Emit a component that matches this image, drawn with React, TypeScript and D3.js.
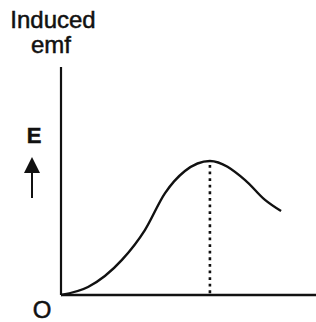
import { useEffect, useRef } from 'react';
import * as d3 from 'd3';

// time values (arbitrary units) and induced emf
const times = [0, 1.06, 2.39, 3.29, 4.08, 4.86, 5.84, 7.22, 8.0, 8.63];
const emf = [0, 0.35, 1.54, 2.85, 4.47, 5.44, 5.88, 5.04, 4.17, 3.68];
const peakIndex = 6;

const axisLabels = { yTop: 'Induced', yBottom: 'emf', symbol: 'E', origin: 'O' };

export default function App() {
  const svgRef = useRef<SVGSVGElement | null>(null);

  useEffect(() => {
    if (!svgRef.current) return;
    const svg = d3.select(svgRef.current);
    svg.selectAll('*').remove();

    const width = 316;
    const height = 322;
    const margin = { top: 67, right: 0, bottom: 27, left: 61 };

    const x = d3.scaleLinear().domain([0, 10]).range([margin.left, width - margin.right]);
    const y = d3.scaleLinear().domain([0, 10]).range([height - margin.bottom, margin.top]);

    svg.attr('viewBox', `0 0 ${width} ${height}`);

    const font = "'Liberation Sans', Arial, sans-serif";

    // axes
    svg
      .append('line')
      .attr('x1', x(0))
      .attr('x2', x(0))
      .attr('y1', y(0))
      .attr('y2', y(10))
      .attr('stroke', '#111')
      .attr('stroke-width', 2.2);
    svg
      .append('line')
      .attr('x1', x(0))
      .attr('x2', x(10))
      .attr('y1', y(0))
      .attr('y2', y(0))
      .attr('stroke', '#111')
      .attr('stroke-width', 2.4);

    // dotted line from the peak
    svg
      .append('line')
      .attr('x1', x(times[peakIndex]))
      .attr('x2', x(times[peakIndex]))
      .attr('y1', y(emf[peakIndex]) + 4)
      .attr('y2', y(0))
      .attr('stroke', '#111')
      .attr('stroke-width', 2.6)
      .attr('stroke-dasharray', '2.8,3.8');

    const pts = times.map((t, i) => [t, emf[i]] as [number, number]);
    const line = d3
      .line<[number, number]>()
      .x((d) => x(d[0]))
      .y((d) => y(d[1]))
      .curve(d3.curveMonotoneX);
    svg
      .append('path')
      .datum(pts)
      .attr('d', line)
      .attr('fill', 'none')
      .attr('stroke', '#111')
      .attr('stroke-width', 2.4);

    const text = (tx: number, ty: number, s: string, size = 24) =>
      svg
        .append('text')
        .attr('x', tx)
        .attr('y', ty)
        .attr('text-anchor', 'middle')
        .attr('font-family', font)
        .attr('font-size', size)
        .attr('fill', '#111')
        .attr('stroke', '#111')
        .attr('stroke-width', 0.5)
        .text(s);

    text(53, 28, axisLabels.yTop);
    text(51, 53, axisLabels.yBottom);
    text(34, 143, axisLabels.symbol, 22).attr('font-weight', 'bold');
    text(42, 318, axisLabels.origin);

    // upward arrow next to E
    svg
      .append('line')
      .attr('x1', 32)
      .attr('x2', 32)
      .attr('y1', 170)
      .attr('y2', 198)
      .attr('stroke', '#111')
      .attr('stroke-width', 2);
    svg
      .append('path')
      .attr('d', 'M32,157 L40,173 L24,173 Z')
      .attr('fill', '#111');
  }, []);

  return (
    <svg
      ref={svgRef}
      width={316}
      height={322}
      style={{ position: 'fixed', left: 0, top: 0, background: '#fff' }}
    />
  );
}
